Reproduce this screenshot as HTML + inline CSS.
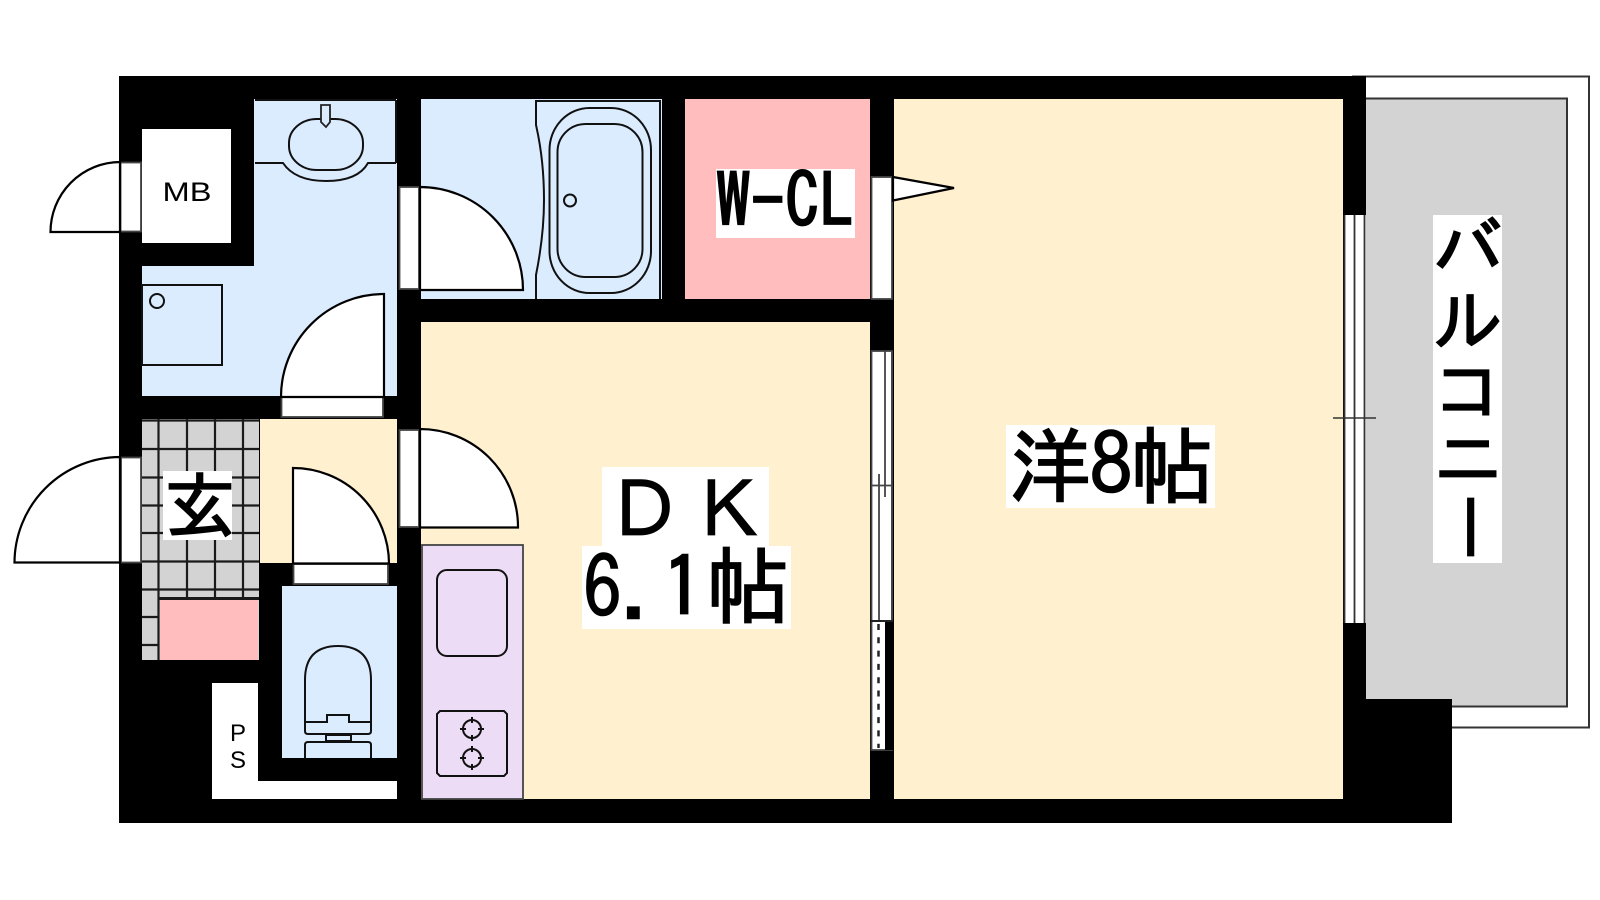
<!DOCTYPE html>
<html><head><meta charset="utf-8"><style>
html,body{margin:0;padding:0;background:#fff;width:1600px;height:900px;overflow:hidden}
svg{display:block}
text{font-family:"IPAGothic","Liberation Sans","Noto Sans CJK JP",sans-serif;fill:#000;stroke:#000;stroke-width:1.6}
.d{fill:#fff;stroke:#000;stroke-width:2.2}
.f{fill:#fff;stroke:#444;stroke-width:1.8}
.l{fill:none;stroke:#111;stroke-width:2}
.t{stroke:#1a1a1a;stroke-width:2.2;fill:none}
</style></head><body>
<svg width="1600" height="900" viewBox="0 0 1600 900" xmlns="http://www.w3.org/2000/svg">
<!-- balcony -->
<rect x="1353" y="76.500" width="236" height="651" fill="#fff" stroke="#333" stroke-width="2"/>
<rect x="1360" y="98.500" width="207" height="608" fill="#d3d3d3" stroke="#333" stroke-width="2"/>
<!-- walls -->
<rect x="119" y="76" width="1247" height="747" fill="#000"/>
<rect x="1343" y="699" width="109" height="124" fill="#000"/>
<!-- wash room -->
<path d="M254 99H397V396H142V266H254Z" fill="#dcecff"/>
<rect x="142" y="129" width="89" height="114" fill="#fff"/>
<!-- bath -->
<rect x="421" y="99" width="241" height="200" fill="#dcecff"/>
<!-- w-cl -->
<rect x="685" y="99" width="185" height="200" fill="#ffbdbd"/>
<!-- rooms -->
<rect x="421" y="322" width="449" height="477" fill="#fff1d0"/>
<rect x="894" y="99" width="449" height="700" fill="#fff1d0"/>
<rect x="260" y="419" width="137" height="144" fill="#fff1d0"/>
<!-- genkan -->
<rect x="142" y="419" width="117" height="241" fill="#d3d3d3"/>
<g class="t">
<path d="M158.500 419V660M187 419V598M215 419V598M243 419V598"/>
<path d="M142 420.500H259M142 449H259M142 477.500H259M142 505.500H259M142 533H259M142 561.500H259M142 589.500H259M142 617H158M142 645H158"/>
</g>
<rect x="158" y="597" width="101" height="3" fill="#1a1a1a"/>
<rect x="160" y="600" width="98" height="60" fill="#ffbdbd"/>
<!-- toilet room -->
<rect x="282" y="586" width="115" height="172" fill="#dcecff"/>
<path d="M212 683H258V781H397V799H212Z" fill="#fff"/>
<!-- kitchen -->
<rect x="422" y="545" width="101" height="254" fill="#eddcf5" stroke="#444" stroke-width="1.8"/>
<rect x="437" y="570" width="70" height="86" rx="10" class="l" stroke="#222"/>
<path class="l" d="M440 711H504L507 714V773L504 776H440L437 773V714Z"/>
<g class="l">
<circle cx="472" cy="729" r="9"/><circle cx="472" cy="758" r="9"/>
<path d="M472 717V723M472 735V741M460 729H466M478 729H484M472 746V752M472 764V770M460 758H466M478 758H484"/>
</g>
<!-- sink -->
<path class="l" d="M255 100H396M396 100V163M255 163H283Q295 181 326 181Q358 181 368 163H396"/>
<rect x="289" y="119" width="74" height="51" rx="28" ry="24" class="l" stroke-width="2.200"/>
<path d="M321 105H330V122L326 127L321 122Z" fill="#dcecff" stroke="#222" stroke-width="1.800"/>
<rect x="142" y="285" width="80" height="80" class="l"/>
<circle cx="157" cy="301" r="7" class="l" stroke-width="2.200"/>
<!-- bath details -->
<path class="l" d="M536 299V275Q544 235 544 200Q544 160 536 125V101H660V299"/>
<rect x="549.500" y="108" width="101.500" height="185" rx="40" ry="42" class="l" stroke-width="2.200"/>
<rect x="557.500" y="124" width="85" height="153" rx="28" ry="28" class="l"/>
<circle cx="570" cy="200.500" r="6" class="l" stroke-width="2.200"/>
<!-- toilet -->
<g class="l" stroke-width="2.200">
<path d="M305 722V680Q305 646 338 646Q371 646 371 680V731Q371 734 368 734H308Q305 734 305 731Z"/>
<path d="M305 722H327V715H349V722H371"/>
<rect x="326" y="735" width="25" height="6"/>
<path d="M305 758V745Q305 742 308 742H368Q371 742 371 745V758"/>
</g>
<!-- door frames -->
<rect x="120.500" y="162.500" width="20.500" height="69" class="f"/>
<rect x="121" y="457.500" width="20" height="105" class="f"/>
<rect x="399.500" y="187" width="19.500" height="102" class="f"/>
<rect x="399.500" y="430" width="19.500" height="97" class="f"/>
<rect x="281.500" y="397" width="101.500" height="20" class="f"/>
<rect x="293.500" y="564" width="94.500" height="20" class="f"/>
<rect x="871.500" y="177" width="20.500" height="122" class="f"/>
<!-- door leaves -->
<path class="d" d="M120 162A70 70 0 0 0 50.500 232H120Z"/>
<path class="d" d="M120 457A106 106 0 0 0 14.500 562.500H120Z"/>
<path class="d" d="M384 294A103 103 0 0 0 281 397H384Z"/>
<path class="d" d="M420 187A103 103 0 0 1 523 290H420Z"/>
<path class="d" d="M420 429A98 98 0 0 1 518 527.500H420Z"/>
<path class="d" d="M293 468A96 96 0 0 1 389 563.500H293Z"/>
<path class="d" d="M893 177L954 188L893 200.500Z"/>
<!-- DK / western window -->
<rect x="871.500" y="351" width="20.500" height="399" class="f"/>
<rect x="885" y="621" width="8" height="129" fill="#000"/>
<path stroke="#444" stroke-width="1.8" fill="none" d="M885 351V497M879 474V621M892 351V621M871 485.500H893"/>
<path stroke="#222" stroke-width="2" fill="none" d="M870.500 621H893"/>
<path stroke="#222" stroke-width="2.500" stroke-dasharray="6 7.300" fill="none" d="M878.500 624V748"/>
<!-- balcony window -->
<rect x="1344" y="215" width="22" height="408" fill="#fff"/>
<path stroke="#333" stroke-width="1.8" fill="none" d="M1344.500 215V623M1354.500 215V623M1364.500 215V623"/>
<path stroke="#333" stroke-width="1.5" fill="none" d="M1333 418H1376"/>
<!-- labels -->
<text x="162.500" y="201" font-size="27" textLength="49" lengthAdjust="spacingAndGlyphs" style="font-family:'Liberation Sans',sans-serif;stroke-width:0">MB</text>
<text x="238" y="741" font-size="24" text-anchor="middle" style="font-family:'Liberation Sans',sans-serif;stroke-width:0">P</text>
<text x="238" y="768" font-size="24" text-anchor="middle" style="font-family:'Liberation Sans',sans-serif;stroke-width:0">S</text>
<rect x="163" y="471" width="69" height="69" fill="#fff"/>
<text x="164" y="532" font-size="72">玄</text>
<rect x="716" y="169" width="139" height="69" fill="#fff"/>
<text transform="translate(716,228) scale(1,1.1)" font-size="68" textLength="138" lengthAdjust="spacingAndGlyphs">W-CL</text>
<rect x="602" y="467" width="167" height="79" fill="#fff"/>
<text x="605 690" y="539" font-size="79" style="stroke-width:.8">ＤＫ</text>
<rect x="582" y="546" width="209" height="83" fill="#fff"/>
<text transform="translate(583,618) scale(.92,1)" font-size="84">6</text>
<text x="620" y="618" font-size="84">.</text>
<text x="662" y="618" font-size="84">1</text>
<text x="706" y="617" font-size="84">帖</text>
<rect x="1006" y="425" width="209" height="83" fill="#fff"/>
<text x="1009" y="496" font-size="82">洋</text>
<text x="1090" y="495" font-size="84">8</text>
<text x="1130" y="497" font-size="84">帖</text>
<rect x="1433" y="215" width="69" height="348" fill="#fff"/>
<g font-size="70" text-anchor="middle">
<text x="1468" y="274">バ</text>
<text x="1468" y="346">ル</text>
<text x="1468" y="416">コ</text>
<text x="1468" y="484">ニ</text>
</g>
<text x="0" y="0" font-size="70" text-anchor="middle" transform="translate(1444,527) rotate(90)">ー</text>
</svg>
</body></html>
